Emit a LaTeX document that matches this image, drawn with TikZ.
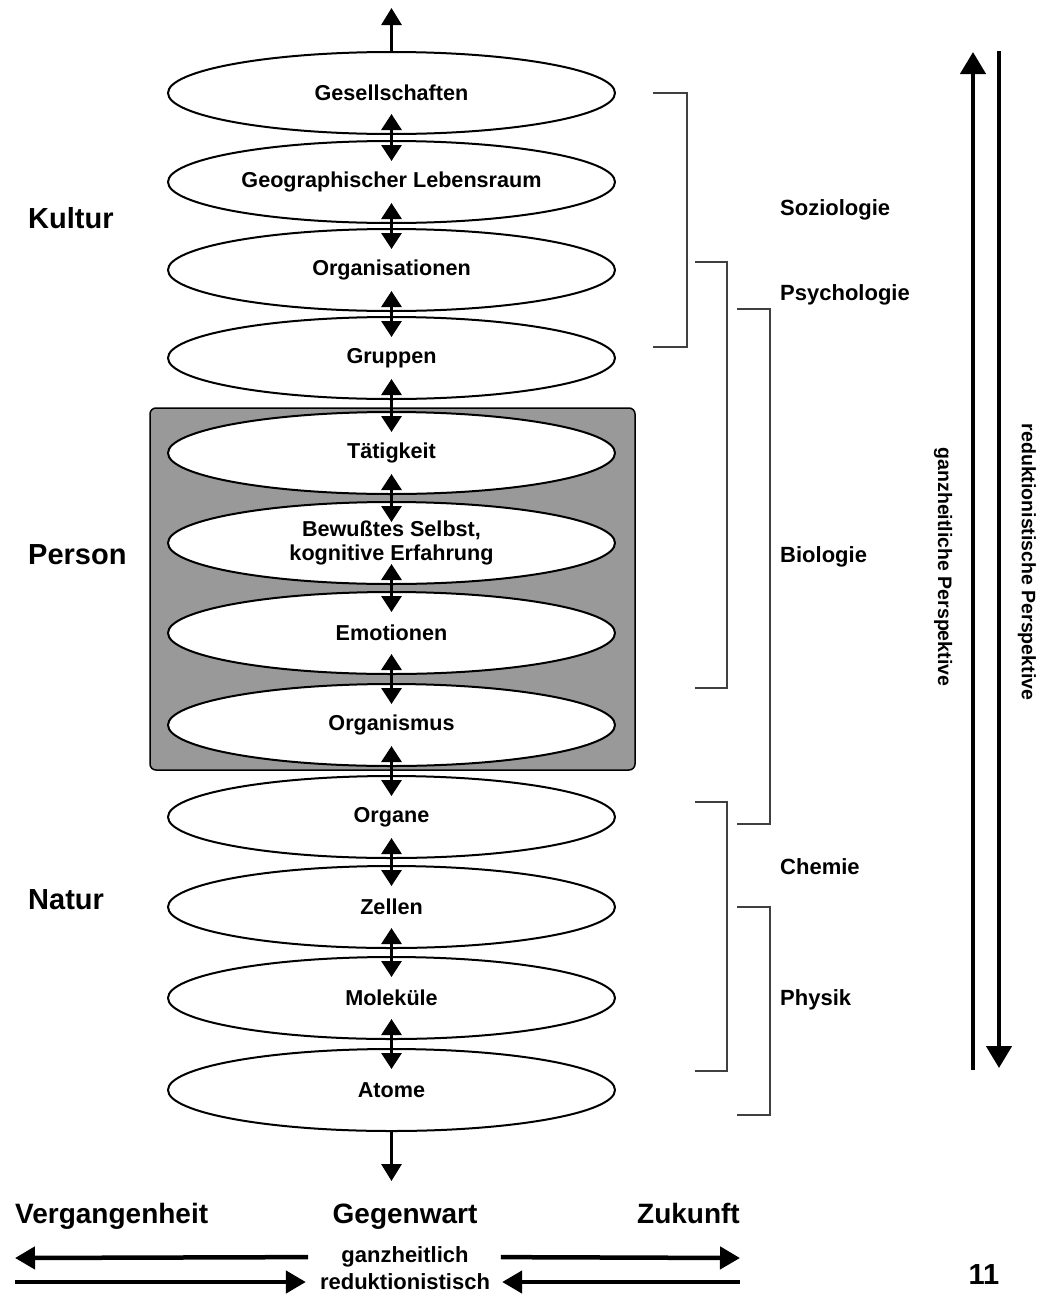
\documentclass[tikz,border=0pt]{standalone}
\usepackage{fontspec}
\setmainfont{Liberation Sans}
\usetikzlibrary{shapes.geometric, positioning, arrows.meta}

\tikzset{
    level/.style={
        ellipse, draw=black, line width=2pt, fill=white, minimum width=447pt, minimum height=82pt, inner sep=0pt, align=center, font=\bfseries\fontsize{21.6}{24}\selectfont
    },
    updown/.style={
        line width=3pt, {Triangle[length=16pt,width=20pt]}-{Triangle[length=16pt,width=20pt]}, shorten <=21pt, shorten >=21pt
    },
    outarrow/.style={
        line width=3pt, -{Triangle[length=17pt,width=20pt]}
    },
    persparrow/.style={
        line width=4.5pt, -{Triangle[length=22pt,width=25pt]}
    },
    timearrow/.style={
        line width=4.5pt, -{Triangle[length=20pt,width=22pt]}
    },
    bracket/.style={
        draw=black!75, line width=2pt
    },
    area/.style={
        font=\bfseries\fontsize{29}{32}\selectfont, anchor=west, inner sep=0pt
    },
    science/.style={
        font=\bfseries\fontsize{22}{25}\selectfont, anchor=west, inner sep=0pt
    },
    timelabel/.style={
        font=\bfseries\fontsize{28}{32}\selectfont, inner sep=0pt
    }
}

\begin{document}
\begin{tikzpicture}[x=1pt, y=-1pt, node distance=90pt]
    \useasboundingbox (0,0) rectangle (1046,1296);

    % Person box
    \filldraw[fill=black!40, draw=black, line width=1.5pt, rounded corners=6pt] (150,408) rectangle (635,770);

    % Levels
    \node (gesell) [level] at (391.5,93) {Gesellschaften};
    \node (lebensraum) [level, below of=gesell, yshift=1pt] {Geographischer Lebensraum};
    \node (orgs) [level, below of=lebensraum, yshift=2pt] {Organisationen};
    \node (gruppen) [level, below of=orgs, yshift=2pt] {Gruppen};
    \node (taetig) [level, below of=gruppen, yshift=-5pt] {Tätigkeit};
    \node (selbst) [level, below of=taetig] {Bewußtes Selbst,\\kognitive Erfahrung};
    \node (emot) [level, below of=selbst] {Emotionen};
    \node (organismus) [level, below of=emot, yshift=-2pt] {Organismus};
    \node (organe) [level, below of=organismus, yshift=-2pt] {Organe};
    \node (zellen) [level, below of=organe] {Zellen};
    \node (molek) [level, below of=zellen, yshift=-1pt] {Moleküle};
    \node (atome) [level, below of=molek, yshift=-2pt] {Atome};

    % Connections
    \foreach \a/\b in {gesell/lebensraum, lebensraum/orgs, orgs/gruppen, gruppen/taetig, taetig/selbst, selbst/emot, emot/organismus, organismus/organe, organe/zellen, zellen/molek, molek/atome}
        \draw [updown] (\a.center) -- (\b.center);
    \coordinate (topend) at (391.5,8);
    \coordinate (bottomend) at (391.5,1181);
    \draw [outarrow] (gesell.north) -- (topend);
    \draw [outarrow] (atome.south) -- (bottomend);

    % Areas
    \node (kultur) [area] at (28,218) {Kultur};
    \node (person) [area] at (28,555) {Person};
    \node (natur) [area] at (28,900) {Natur};

    % Sciences
    \draw [bracket] (653,93) -- (687,93) -- (687,347) -- (653,347);
    \draw [bracket] (695,262) -- (727,262) -- (727,688) -- (695,688);
    \draw [bracket] (737,309) -- (770,309) -- (770,824) -- (737,824);
    \draw [bracket] (695,802) -- (727,802) -- (727,1071) -- (695,1071);
    \draw [bracket] (737,907) -- (770,907) -- (770,1115) -- (737,1115);
    \node (soz) [science] at (780,210) {Soziologie};
    \node (psy) [science] at (780,295) {Psychologie};
    \node (bio) [science] at (780,557) {Biologie};
    \node (chem) [science] at (780,867) {Chemie};
    \node (phys) [science] at (780,1000) {Physik};

    % Perspectives
    \coordinate (ganzBottom) at (973,1070);
    \coordinate (ganzTop) at (973,52);
    \coordinate (redTop) at (999,51);
    \coordinate (redBottom) at (999,1068);
    \draw [persparrow] (ganzBottom) -- (ganzTop);
    \draw [persparrow] (redTop) -- (redBottom);
    \node (ganzpersp) [rotate=-90, font=\bfseries\fontsize{19.5}{22}\selectfont] at (943,567) {ganzheitliche Perspektive};
    \node (redpersp) [rotate=-90, font=\bfseries\fontsize{19.5}{22}\selectfont] at (1027,562) {reduktionistische Perspektive};

    % Time
    \node (past) [timelabel, anchor=base west] at (15,1223) {Vergangenheit};
    \node (now) [timelabel, anchor=base] at (405,1223) {Gegenwart};
    \node (future) [timelabel, anchor=base east] at (740,1223) {Zukunft};
    \node (ganzh) [font=\bfseries\fontsize{22}{25}\selectfont, inner sep=0pt] at (405,1257) {ganzheitlich};
    \node (redukt) [font=\bfseries\fontsize{22}{25}\selectfont, inner sep=0pt] at (405,1282) {reduktionistisch};
    \coordinate (pastTip) at (15,1258);
    \coordinate (futureTip) at (740,1258);
    \coordinate (pastStart) at (15,1282);
    \coordinate (futureStart) at (740,1282);
    \draw [timearrow, shorten <=33pt] (ganzh.west) -- (pastTip);
    \draw [timearrow, shorten <=32pt] (ganzh.east) -- (futureTip);
    \draw [timearrow, shorten >=14pt] (pastStart) -- (redukt.west);
    \draw [timearrow, shorten >=12pt] (futureStart) -- (redukt.east);

    \node (pagenum) [font=\bfseries\fontsize{29}{32}\selectfont, inner sep=0pt] at (984,1275) {11};
\end{tikzpicture}
\end{document}
